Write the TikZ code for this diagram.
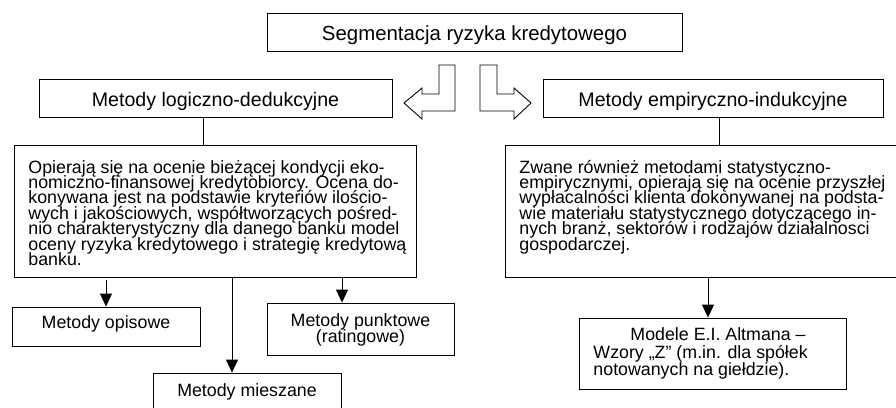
\documentclass[tikz,border=0pt]{standalone}
\usepackage{fontspec}
\setmainfont{Liberation Sans}
\usetikzlibrary{arrows.meta,calc}
\newcommand{\ttlfont}{\fontsize{20.4}{22}\selectfont}
\newcommand{\hdrfont}{\fontsize{19.6}{22}\selectfont}
\newcommand{\smfont}{\fontsize{17.8}{15.3}\selectfont}
\newcommand{\myline}[1]{\hbox{#1}}
\newcommand{\mylines}[2]{\vtop{\baselineskip=#1\lineskiplimit=-\maxdimen\lineskip=0pt #2}}
\begin{document}
\begin{tikzpicture}[x=1pt,y=-1pt, line width=0.9pt,
  box/.style={draw, inner sep=0pt},
  hdr/.style={box, font=\hdrfont, text height=17pt, text depth=0pt, minimum height=38pt},
  txt/.style={inner sep=0pt, font=\smfont},
  arr/.style={-{Triangle[length=13pt,width=12pt]}},
  blk/.style={draw, line join=miter}]
\useasboundingbox (0,0) rectangle (896,407);
\clip (0,0) rectangle (896,407);
% headers
\node[hdr, font=\ttlfont, minimum width=415pt] (top) at (474.5,32) {Segmentacja ryzyka kredytowego};
\node[hdr, minimum width=353pt] (lh) at (215.5,98) {Metody logiczno-dedukcyjne};
\node[hdr, minimum width=340pt] (rh) at (713,98) {Metody empiryczno-indukcyjne};
% block arrows
\draw[blk] (439,65) -- (455,65) -- (455,111) -- (422,111) -- (422,119) -- (404,103) -- (422,88) -- (422,94) -- (439,94) -- cycle;
\draw[blk] (480,65) -- (497,65) -- (497,94) -- (514,94) -- (514,88) -- (531,103) -- (514,119) -- (514,111) -- (480,111) -- cycle;
% text boxes
\node[box, minimum width=402pt, minimum height=132pt] (lt) at (215,211) {};
\node[txt, anchor=base west] (ltx) at (28,173) {\mylines{15.4pt}{%
\myline{Opierają się na ocenie bieżącej kondycji eko-}
\myline{nomiczno-finansowej kredytobiorcy. Ocena do-}
\myline{konywana jest na podstawie kryteriów ilościo-}
\myline{wych i jakościowych, współtworzących pośred-}
\myline{nio charakterystyczny dla danego banku model}
\myline{oceny ryzyka kredytowego i strategię kredytową}
\myline{banku.}}};
\node[box, minimum width=400pt, minimum height=132pt] (rt) at (705,211) {};
\node[txt, anchor=base west] (rtx) at (519,173) {\mylines{15.4pt}{%
\myline{Zwane również metodami statystyczno-}
\myline{empirycznymi, opierają się na ocenie przyszłej}
\myline{wypłacalności klienta dokonywanej na podsta-}
\myline{wie materiału statystycznego dotyczącego in-}
\myline{nych branż, sektorów i rodzajów działalnosci}
\myline{gospodarczej.}}};
% lower boxes
\node[box, font=\smfont, text height=13pt, text depth=10pt, minimum width=188pt, minimum height=39pt] (op) at (106,326.5) {Metody opisowe};
\node[box, minimum width=187pt, minimum height=52pt] (pk) at (360.5,329) {};
\node[txt, anchor=base] (pkx) at (360.5,326.7) {\mylines{15.4pt}{%
\hbox to 187pt{\hfil Metody punktowe\hfil}
\hbox to 187pt{\hfil (ratingowe)\hfil}}};
\node[box, font=\smfont, text height=12pt, text depth=10pt, minimum width=188pt, minimum height=44pt] (mx) at (247,395) {Metody mieszane};
\node[box, minimum width=267pt, minimum height=71pt] (md) at (712.5,353.5) {};
\node[txt, anchor=base west] (mdx) at (593,340) {\mylines{17pt}{%
\myline{\hspace*{37pt}Modele E.I. Altmana –}
\vskip 1.7pt
\myline{Wzory „Z” (m.in. dla spółek}
\myline{notowanych na giełdzie).}}};
% connectors
\coordinate (c1) at (203,0);
\coordinate (c2) at (719,0);
\coordinate (cm) at (232,0);
\coordinate (cp) at (342,0);
\coordinate (cz) at (708,0);
\draw (c1 |- lh.south) -- (c1 |- lt.north);
\draw (c2 |- rh.south) -- (c2 |- rt.north);
\draw[arr] ($(lt.south -| op.north)+(0,3)$) -- (op.north);
\draw[arr] (cm |- lt.south) -- (cm |- mx.north);
\draw[arr] ($(cp |- lt.south)+(0,1)$) -- (cp |- pk.north);
\draw[arr] (cz |- rt.south) -- (cz |- md.north);
\end{tikzpicture}
\end{document}
